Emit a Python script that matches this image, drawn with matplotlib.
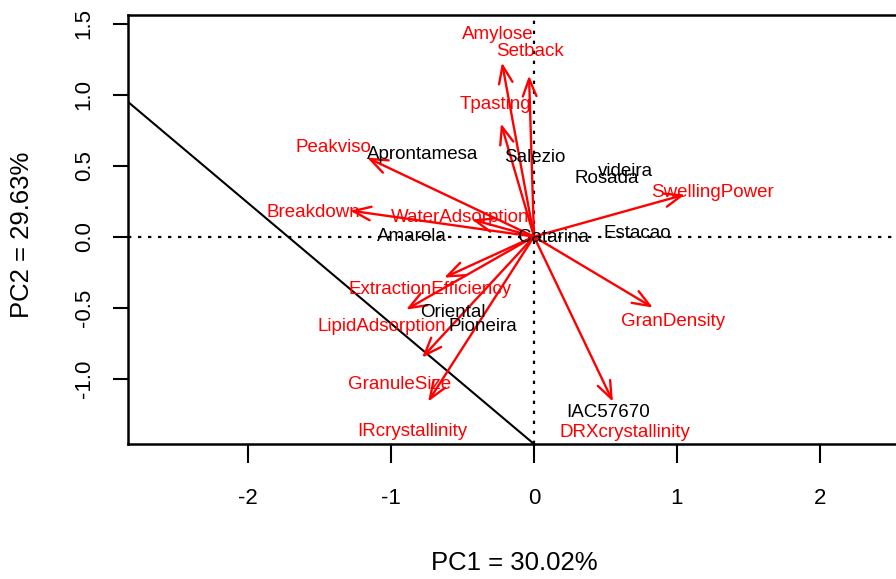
import matplotlib
matplotlib.use("Agg")
import matplotlib.pyplot as plt

plt.rcParams['font.family'] = ['Liberation Sans', 'DejaVu Sans']
plt.rcParams['axes.unicode_minus'] = False

# variable loadings (arrow tips) and where their labels sit
var_names = ['Amylose', 'Setback', 'Tpasting', 'Peakviso', 'Breakdown',
             'WaterAdsorption', 'SwellingPower', 'GranDensity',
             'DRXcrystallinity', 'IRcrystallinity', 'GranuleSize',
             'LipidAdsorption', 'ExtractionEfficiency']
var_x = [-0.224, -0.035, -0.231, -1.168, -1.287, -0.434, 1.056, 0.832,
         0.552, -0.741, -0.783, -0.895, -0.629]
var_y = [1.225, 1.134, 0.796, 0.556, 0.183, 0.120, 0.296, -0.500,
         -1.162, -1.162, -0.852, -0.514, -0.289]
lab_x = [-0.252, -0.028, -0.273, -1.400, -1.545, -0.520, 1.245, 0.972,
         0.636, -0.853, -0.937, -1.063, -0.727]
lab_y = [1.423, 1.303, 0.930, 0.627, 0.169, 0.134, 0.310, -0.599,
         -1.380, -1.373, -1.042, -0.634, -0.373]

# cultivar scores
obs_names = ['Aprontamesa', 'Salezio', 'videira', 'Rosada', 'Amarela',
             'Catarina', 'Estacao', 'Oriental', 'Pioneira', 'IAC57670']
obs_x = [-0.776, 0.007, 0.643, 0.510, -0.853, 0.133, 0.720, -0.566,
         -0.357, 0.517]
obs_y = [0.577, 0.556, 0.458, 0.408, 0.000, -0.007, 0.020, -0.535,
         -0.634, -1.239]

# reference line
line_pt = (0, -1.46)
line_slope = -0.848

W, H = 896, 579
fig = plt.figure(figsize=(W / 100, H / 100), dpi=100)
ax = fig.add_axes([128 / W, (H - 444) / H, (900 - 128) / W, (444 - 15) / H])
ax.set_xlim(-2.84, 2.56)
ax.set_ylim(-1.46, 1.56)

ax.axhline(0, color='black', ls=(0, (1.5, 3)), lw=1.6)
ax.axvline(0, color='black', ls=(0, (1.5, 3)), lw=1.6)
ax.axline(line_pt, slope=line_slope, color='black', lw=1.5)

for x, y in zip(var_x, var_y):
    ax.annotate('', xy=(x, y), xytext=(0, 0),
                arrowprops=dict(arrowstyle='->,head_length=0.9,head_width=0.35',
                                color='red', lw=1.7, mutation_scale=14,
                                shrinkA=0, shrinkB=0))
for name, x, y in zip(var_names, lab_x, lab_y):
    ax.text(x, y, name, color='red', fontsize=13.5, ha='center', va='center')
for name, x, y in zip(obs_names, obs_x, obs_y):
    ax.text(x, y, name, color='black', fontsize=13.5, ha='center', va='center')

ax.set_xticks([-2, -1, 0, 1, 2])
ax.set_yticks([-1.0, -0.5, 0.0, 0.5, 1.0, 1.5])
ax.set_yticklabels(['-1.0', '-0.5', '0.0', '0.5', '1.0', '1.5'],
                   rotation=90, va='center')
ax.tick_params(axis='x', length=14, width=1.5, pad=18, labelsize=16)
ax.tick_params(axis='y', length=11, width=1.5, pad=13, labelsize=16)
for s in ax.spines.values():
    s.set_linewidth(1.8)

fig.text(514 / W, 1 - 563 / H, 'PC1 = 30.02%', fontsize=18.5,
         ha='center', va='center')
fig.text(22 / W, 1 - 235 / H, 'PC2 = 29.63%', fontsize=18.5,
         ha='center', va='center', rotation=90)

fig.savefig('out.png', dpi=100)
